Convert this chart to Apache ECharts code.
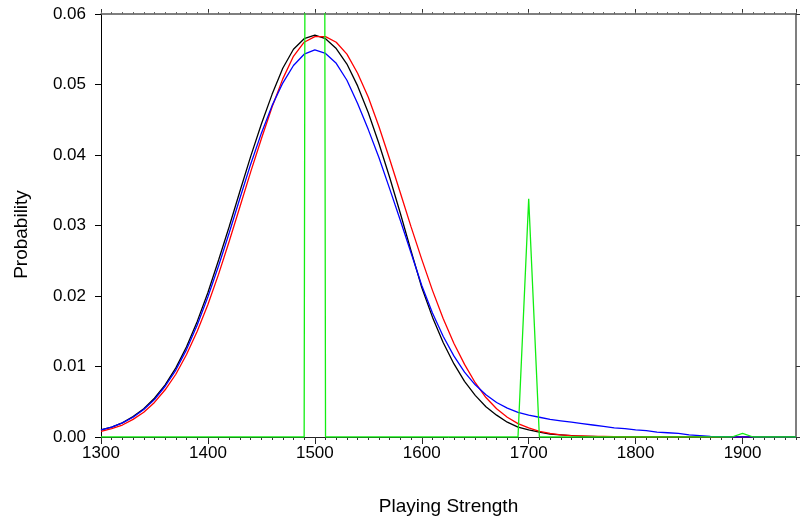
<!DOCTYPE html>
<html>
<head>
<meta charset="utf-8">
<script src="https://cdn.jsdelivr.net/npm/echarts@6/dist/echarts.min.js"></script>
<style>
  html, body { margin: 0; padding: 0; background: #fff; }
  #echarts { width: 800px; height: 517px; }
</style>
</head>
<body>
<div id="echarts"></div>
<script>
// playing strength grid, 1300..1950 every 10
const strengths = Array.from({ length: 66 }, (_, i) => 1300 + i * 10);

const blackVals = [
  0.0010, 0.0014, 0.0020, 0.0029, 0.0040, 0.0055, 0.0074, 0.0098, 0.0128, 0.0164,
  0.0205, 0.0251, 0.0299, 0.0349, 0.0398, 0.0444, 0.0486, 0.0523, 0.0550, 0.0565,
  0.0570, 0.0565, 0.0551, 0.0529, 0.0498, 0.0460, 0.0416, 0.0368, 0.0317, 0.0264,
  0.0212, 0.0170, 0.0134, 0.0104, 0.0079, 0.0059, 0.0043, 0.0031, 0.0021, 0.0014,
  0.0010, 0.0007, 0.0004, 0.0003, 0.0002, 0.0001, 0.0001, 0, 0, 0,
  0, 0, 0, 0, 0, 0, 0, 0, 0, 0,
  0, 0, 0, 0, 0, 0,
];
const redVals = [
  0.0008, 0.0012, 0.0017, 0.0025, 0.0035, 0.0049, 0.0067, 0.0089, 0.0117, 0.0150,
  0.0188, 0.0231, 0.0278, 0.0327, 0.0376, 0.0423, 0.0468, 0.0508, 0.0540, 0.0560,
  0.0568, 0.0568, 0.0560, 0.0543, 0.0516, 0.0482, 0.0440, 0.0394, 0.0346, 0.0298,
  0.0252, 0.0208, 0.0168, 0.0133, 0.0103, 0.0077, 0.0056, 0.0040, 0.0028, 0.0019,
  0.0013, 0.0008, 0.0005, 0.0003, 0.0002, 0.00015, 0.0001, 0.0001, 0.00005, 0,
  0, 0, 0, 0, 0, 0, 0, 0, 0, 0,
  0, 0, 0, 0, 0, 0,
];
const blueVals = [
  0.0010, 0.0014, 0.0020, 0.0028, 0.0039, 0.0053, 0.0072, 0.0095, 0.0124, 0.0159,
  0.0199, 0.0243, 0.0290, 0.0339, 0.0387, 0.0431, 0.0470, 0.0502, 0.0527, 0.0543,
  0.0549, 0.0544, 0.0530, 0.0506, 0.0473, 0.0436, 0.0396, 0.0352, 0.0307, 0.0261,
  0.0215, 0.0176, 0.0143, 0.0115, 0.0092, 0.0074, 0.0060, 0.0049, 0.0041, 0.0035,
  0.0031, 0.0028, 0.0025, 0.0023, 0.0021, 0.0019, 0.0017, 0.0015, 0.0013, 0.0012,
  0.0010, 0.0009, 0.0007, 0.0006, 0.0005, 0.0003, 0.0002, 0.0001, 0.00005, 0,
  0, 0, 0, 0, 0, 0,
];
const greenVals = [
  0, 0, 0, 0, 0, 0, 0, 0, 0, 0,
  0, 0, 0, 0, 0, 0, 0, 0, 0, 0,
  0.9, 0, 0, 0, 0, 0, 0, 0, 0, 0,
  0, 0, 0, 0, 0, 0, 0, 0, 0, 0,
  0.0338, 0, 0, 0, 0, 0, 0, 0, 0, 0,
  0, 0, 0, 0, 0, 0, 0, 0, 0, 0,
  0.0005, 0, 0, 0, 0, 0,
];

const pairs = vals => strengths.map((x, i) => [x, vals[i]]);
const font = 'Liberation Sans, Arial, sans-serif';

let myChart = echarts.init(document.getElementById('echarts'), null, { renderer: 'canvas' });

const xBase = {
  type: 'value',
  min: 1300,
  max: 1950,
  splitLine: { show: false },
};

let option = {
  animation: false,
  grid: { left: 101, right: 4, top: 14, bottom: 80, outerBoundsMode: 'none', containLabel: false },
  xAxis: [
    {
      // bottom, major
      ...xBase,
      position: 'bottom',
      interval: 100,
      name: 'Playing Strength',
      nameLocation: 'middle',
      nameGap: 60,
      nameTextStyle: { fontFamily: font, fontSize: 19, color: '#000' },
      axisLine: { show: true, onZero: false, lineStyle: { color: '#222', width: 1 } },
      axisTick: { show: true, inside: false, length: 7, lineStyle: { color: '#222' } },
      axisLabel: {
        margin: 8, fontFamily: font, fontSize: 17, color: '#000',
        showMaxLabel: false,
        formatter: v => String(v),
      },
    },
    {
      // bottom, minor ticks
      ...xBase,
      position: 'bottom',
      interval: 10,
      axisLine: { show: false, onZero: false },
      axisTick: { show: true, inside: false, length: 3, lineStyle: { color: '#333' } },
      axisLabel: { show: false },
    },
    {
      // top, major
      ...xBase,
      position: 'top',
      interval: 100,
      axisLine: { show: true, onZero: false, lineStyle: { color: '#555', width: 1.5 } },
      axisTick: { show: true, inside: false, length: 5, lineStyle: { color: '#333' } },
      axisLabel: { show: false },
    },
    {
      // top, minor ticks
      ...xBase,
      position: 'top',
      interval: 10,
      axisLine: { show: false, onZero: false },
      axisTick: { show: true, inside: false, length: 2, lineStyle: { color: '#666' } },
      axisLabel: { show: false },
    },
  ],
  yAxis: [
    {
      type: 'value',
      position: 'left',
      min: 0,
      max: 0.06,
      interval: 0.01,
      name: 'Probability',
      nameLocation: 'middle',
      nameGap: 70,
      // push the label a little below the axis centre, like the source
      nameTextStyle: { fontFamily: font, fontSize: 19, color: '#000', padding: [0, 18, 0, 0] },
      splitLine: { show: false },
      axisLine: { show: true, onZero: false, lineStyle: { color: '#000', width: 1 } },
      axisTick: { show: true, inside: false, length: 6, lineStyle: { color: '#000' } },
      axisLabel: {
        margin: 15, fontFamily: font, fontSize: 17, color: '#000',
        formatter: v => v.toFixed(2),
      },
    },
    {
      type: 'value',
      position: 'right',
      min: 0,
      max: 0.06,
      interval: 0.01,
      splitLine: { show: false },
      axisLine: { show: true, onZero: false, lineStyle: { color: '#555', width: 1.5 } },
      axisTick: { show: true, inside: false, length: 4, lineStyle: { color: '#333' } },
      axisLabel: { show: false },
    },
  ],
  series: [
    { name: 'black', color: '#000000', data: pairs(blackVals) },
    { name: 'red', color: '#ff0000', data: pairs(redVals) },
    { name: 'blue', color: '#0000ff', data: pairs(blueVals) },
    { name: 'green', color: '#11ee11', data: pairs(greenVals) },
  ].map(s => ({
    ...s,
    type: 'line',
    xAxisIndex: 0,
    yAxisIndex: 0,
    showSymbol: false,
    symbol: 'none',
    clip: true,
    lineStyle: { width: 1.3, color: s.color },
  })),
};
myChart.setOption(option);
</script>
</body>
</html>
